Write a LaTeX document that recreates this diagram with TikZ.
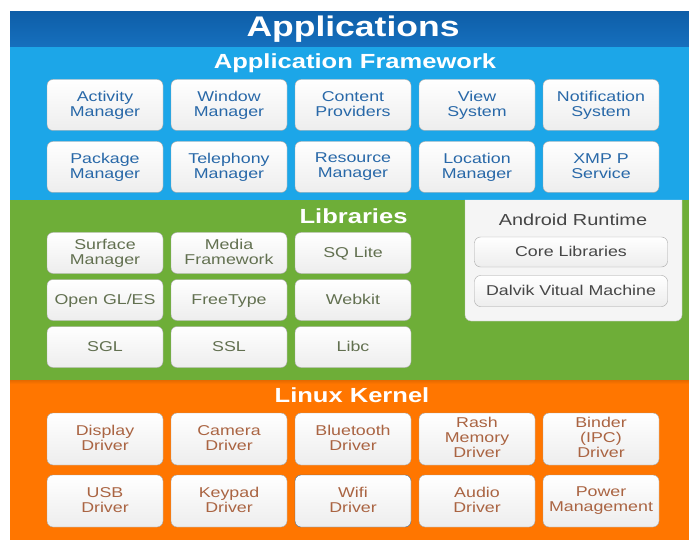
\documentclass[tikz,border=0pt]{standalone}
\usepackage{fontspec}
\setmainfont[FakeStretch=1.25]{Liberation Sans}

\definecolor{appblue}{RGB}{14,94,168}
\definecolor{appblueb}{RGB}{22,112,190}
\definecolor{fwblue}{RGB}{28,166,232}
\definecolor{libgreen}{RGB}{110,174,56}
\definecolor{kernorange}{RGB}{255,118,0}
\definecolor{fwtext}{RGB}{40,104,168}
\definecolor{libtext}{RGB}{98,112,80}
\definecolor{kerntext}{RGB}{170,100,66}
\definecolor{rttext}{RGB}{70,70,70}
\definecolor{boxline}{RGB}{165,165,165}
\definecolor{selline}{RGB}{70,105,140}
\newcommand\boxstrut{\rule[-2.5bp]{0pt}{14bp}}

\begin{document}
\begin{tikzpicture}[x=1bp,y=-1bp,
  blk/.style={draw=boxline, rounded corners=6bp, top color=white, bottom color=black!7,
    minimum width=116bp, inner sep=0pt, align=center, font=\fontsize{14.3}{15}\selectfont,
    execute at begin node=\boxstrut, execute at end node=\boxstrut},
  fw/.style={blk, minimum height=51bp, text=fwtext},
  lib/.style={blk, minimum height=41bp, text=libtext},
  kern/.style={blk, minimum height=52bp, text=kerntext},
  rt/.style={blk, minimum width=193bp, minimum height=30bp, text=rttext},
  title/.style={text=white, font=\fontsize{20.5}{22}\selectfont\bfseries}]
\useasboundingbox (0,0) rectangle (689,540);

% layers
\shade[top color=appblue, bottom color=appblueb] (10,12) rectangle (689,47);
\fill[fwblue] (10,47) rectangle (689,200);
\fill[libgreen] (10,200) rectangle (689,380);
\shade[top color=kernorange!90!black, bottom color=kernorange] (10,380) rectangle (689,384);
\fill[kernorange] (10,384) rectangle (689,540);

\node[text=white, font=\fontsize{28.5}{30}\selectfont\bfseries](T0) at (353,29) {Applications};
\node[title](T1) at (355,63) {Application Framework};
\node[title, anchor=east](T2) at (411,216) {Libraries};
\node[title](T3) at (352,395) {Linux Kernel};

\node[fw](F0) at (105,105) {Activity\\Manager};
\node[fw](F1) at (229,105) {Window\\Manager};
\node[fw](F2) at (353,105) {Content\\Providers};
\node[fw](F3) at (477,105) {View\\System};
\node[fw](F4) at (601,105) {Notification\\System};
\node[fw](F5) at (105,167) {Package\\Manager};
\node[fw](F6) at (229,167) {Telephony\\Manager};
\node[fw](F7) at (353,167) {Resource\\Manager};
\node[fw](F8) at (477,167) {Location\\Manager};
\node[fw](F9) at (601,167) {XMP P\\Service};

\node[lib](L0) at (105,253) {Surface\\Manager};
\node[lib](L1) at (229,253) {Media\\Framework};
\node[lib](L2) at (353,253) {SQ Lite};
\node[lib](L3) at (105,300) {Open GL/ES};
\node[lib](L4) at (229,300) {FreeType};
\node[lib](L5) at (353,300) {Webkit};
\node[lib](L6) at (105,347) {SGL};
\node[lib](L7) at (229,347) {SSL};
\node[lib](L8) at (353,347) {Libc};

% runtime panel
\path[fill=black!4, draw=black!25, rounded corners=6bp] (465,200) -- (465,321) -- (682,321) -- (682,200);
\node[text=rttext, font=\fontsize{16}{18}\selectfont](R0) at (573,220) {Android Runtime};
\node[rt](R1) at (571,252) {Core Libraries};
\node[rt, minimum height=31bp](R2) at (571,291) {Dalvik Vitual Machine};

\node[kern](K0) at (105,439) {Display\\Driver};
\node[kern](K1) at (229,439) {Camera\\Driver};
\node[kern](K2) at (353,439) {Bluetooth\\Driver};
\node[kern](K3) at (477,439) {Rash\\Memory\\Driver};
\node[kern](K4) at (601,439) {Binder\\(IPC)\\Driver};
\node[kern](K5) at (105,501) {USB\\Driver};
\node[kern](K6) at (229,501) {Keypad\\Driver};
\node[kern, draw=selline](K7) at (353,501) {Wifi\\Driver};
\node[kern](K8) at (477,501) {Audio\\Driver};
\node[kern](K9) at (601,501) {Power\\Management};
\end{tikzpicture}
\end{document}
